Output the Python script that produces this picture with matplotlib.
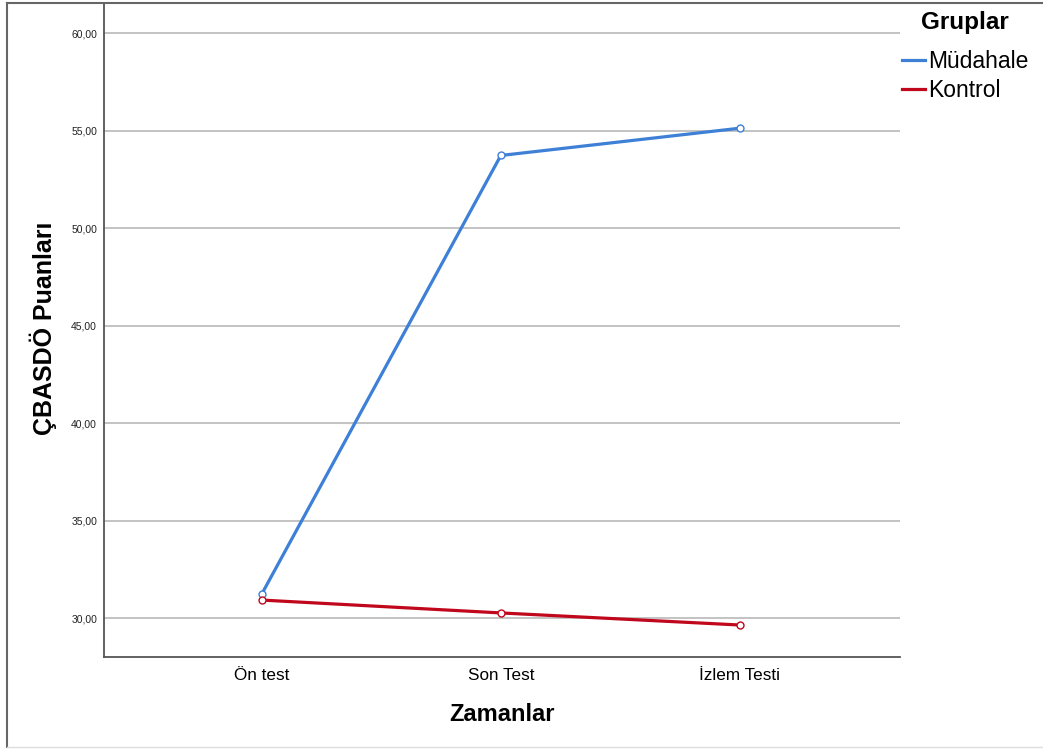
import matplotlib
matplotlib.use("Agg")
import matplotlib.pyplot as plt
from matplotlib.lines import Line2D

plt.rcParams['font.family'] = ['Liberation Sans', 'DejaVu Sans']

categories = ["Ön test", "Son Test", "İzlem Testi"]
mudahale = [31.23, 53.72, 55.12]
kontrol = [30.92, 30.26, 29.64]
yticks = [30, 35, 40, 45, 50, 55, 60]
ytick_labels = ["30,00", "35,00", "40,00", "45,00", "50,00", "55,00", "60,00"]
series_names = ["Müdahale", "Kontrol"]
colors = ["#3D80D5", "#C0071C"]

fig = plt.figure(figsize=(10.43, 7.49), dpi=100)
ax = fig.add_axes([104/1043, 1-657/749, (900-104)/1043, (657-3)/749])

x = list(range(len(categories)))
for i, (vals, name, c) in enumerate(zip([mudahale, kontrol], series_names, colors)):
    ax.plot(x, vals, color=c, lw=2.3, marker="o", ms=5,
            mfc="white", mec=c, mew=1.0, label=name, zorder=3 + i)

ax.set_ylim(28.0, 61.54)
ax.set_xlim(-0.66, 2.67)
ax.set_yticks(yticks)
ax.set_yticklabels(ytick_labels, fontsize=7.5, color="#222222")
ax.set_xticks(x)
ax.set_xticklabels(categories, fontsize=12.3)
ax.tick_params(axis='both', length=0)
ax.tick_params(axis='y', pad=5)
ax.tick_params(axis='x', pad=8)
ax.grid(axis='y', color="#BEBEBE", lw=1.3)
ax.set_axisbelow(True)
for s in ["top", "right"]:
    ax.spines[s].set_visible(False)
for s in ["left", "bottom"]:
    ax.spines[s].set_color("#555555")
    ax.spines[s].set_linewidth(1.3)

ax.set_xlabel("Zamanlar", fontsize=17, fontweight="bold", labelpad=14)
ax.set_ylabel("ÇBASDÖ Puanları", fontsize=18, fontweight="bold")
ax.yaxis.set_label_coords((57-104)/796, (657-328)/654)

handles = [Line2D([], [], color=c, lw=2.3) for c in colors]
leg = ax.legend(handles, series_names, loc="upper left",
                bbox_to_anchor=(886/1043, 1-34/749),
                bbox_transform=fig.transFigure, frameon=False,
                fontsize=16.5, handlelength=1.0,
                handletextpad=0.15, labelspacing=0.25, borderpad=0.2)
fig.text(965/1043, 1-22/749, "Gruplar", ha="center", va="center",
         fontsize=17.5, fontweight="bold")

# outer frame
fig.add_artist(Line2D([7/1043, 7/1043], [1-3/749, 1-747/749], transform=fig.transFigure,
                      color="#666666", lw=1.5))
fig.add_artist(Line2D([7/1043, 1], [1-3/749, 1-3/749], transform=fig.transFigure,
                      color="#666666", lw=1.5))
fig.add_artist(Line2D([7/1043, 1], [1-747/749, 1-747/749], transform=fig.transFigure,
                      color="#DDDDDD", lw=1.0))

fig.savefig("out.png", dpi=100)
